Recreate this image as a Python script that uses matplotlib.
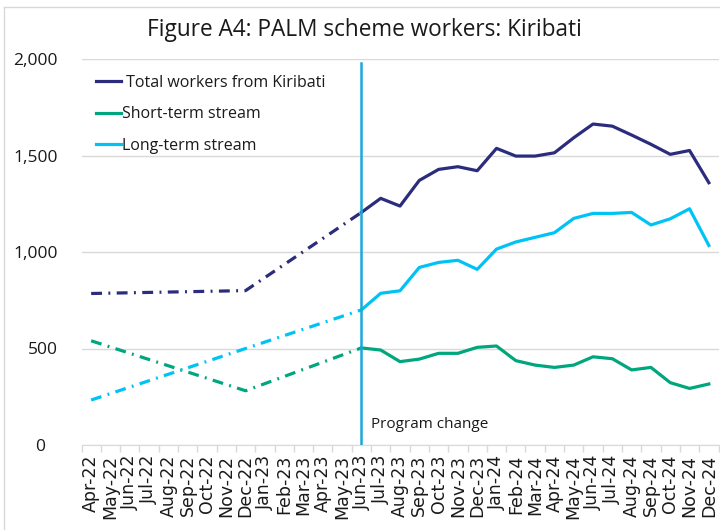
import numpy as np
import matplotlib
matplotlib.use("Agg")
import matplotlib.pyplot as plt
from matplotlib.lines import Line2D
from matplotlib.transforms import ScaledTranslation

nan = np.nan

months = ["Apr-22", "May-22", "Jun-22", "Jul-22", "Aug-22", "Sep-22", "Oct-22", "Nov-22",
          "Dec-22", "Jan-23", "Feb-23", "Mar-23", "Apr-23", "May-23", "Jun-23", "Jul-23",
          "Aug-23", "Sep-23", "Oct-23", "Nov-23", "Dec-23", "Jan-24", "Feb-24", "Mar-24",
          "Apr-24", "May-24", "Jun-24", "Jul-24", "Aug-24", "Sep-24", "Oct-24", "Nov-24",
          "Dec-24"]

total = [785, nan, nan, nan, nan, nan, nan, nan, 800, nan, nan, nan, nan, nan,
         1205, 1278, 1238, 1371, 1428, 1442, 1421, 1537, 1497, 1497, 1514, 1592,
         1663, 1652, 1606, 1558, 1506, 1526, 1359]
short_term = [540, nan, nan, nan, nan, nan, nan, nan, 281, nan, nan, nan, nan, nan,
              503, 492, 432, 445, 475, 475, 506, 513, 437, 414, 402, 414,
              457, 447, 389, 402, 323, 293, 316]
long_term = [233, nan, nan, nan, nan, nan, nan, nan, 500, nan, nan, nan, nan, nan,
             700, 786, 799, 920, 946, 957, 910, 1015, 1052, 1076, 1100, 1174,
             1200, 1200, 1205, 1140, 1172, 1224, 1034]

series_labels = [" Total workers from Kiribati", "Short-term stream", "Long-term stream"]
y_ticks = [0, 500, 1000, 1500, 2000]
change_month = "Jun-23"
title = "Figure A4: PALM scheme workers: Kiribati"
annotation = "Program change"

colors = ["#2B2C7C", "#00A67E", "#00C3F5"]
vline_color = "#1AA8DA"
grid_color = "#D9D9D9"
text_color = "#1A1A1A"
main_font = ["Open Sans", "DejaVu Sans"]

W, H = 720, 530
fig = plt.figure(figsize=(W / 100, H / 100), dpi=100)
ax = fig.add_axes([81.5 / W, 1 - 445 / H, (718.5 - 81.5) / W, (445 - 59) / H])

x = np.arange(len(months))
ci = months.index(change_month)

for vals, col in zip([total, short_term, long_term], colors):
    v = np.array(vals, dtype=float)
    pre = [i for i in range(0, ci + 1) if np.isfinite(v[i])]
    ax.plot(x[pre], v[pre], color=col, lw=2.3,
            linestyle=(0, (3.4, 2.0, 0.6, 2.0)), zorder=3)
    post = np.arange(ci, len(months))
    ax.plot(x[post], v[post], color=col, lw=2.3, solid_joinstyle="round", zorder=3)

ax.axvline(ci, ymin=0, ymax=0.99, color=vline_color, lw=1.8, zorder=4)
ax.text(ci + 0.5, 105, annotation, fontsize=11, color=text_color,
        family=main_font, va="center", ha="left")

ax.set_xlim(-0.5, len(months) - 0.5)
ax.set_ylim(0, 2000)
ax.set_yticks(y_ticks)
ax.set_yticklabels([f"{v:,}" for v in y_ticks], fontsize=12.5, family=main_font, color=text_color)
ax.tick_params(axis="y", length=0, pad=17)
ax.yaxis.grid(True, color=grid_color, lw=1)
ax.set_axisbelow(True)

ax.set_xticks(x)
ax.set_xticklabels(months, rotation=90, fontsize=12.5, family="DejaVu Sans", color=text_color)
ax.tick_params(axis="x", which="major", length=0, pad=7)
ax.set_xticks(np.arange(-0.5, len(months)), minor=True)
ax.tick_params(axis="x", which="minor", length=5, color=grid_color, width=1)

for s in ["top", "right", "left"]:
    ax.spines[s].set_visible(False)
ax.spines["bottom"].set_color(grid_color)

# shift the "0" label left
lab0 = ax.get_yticklabels()[0]
lab0.set_transform(lab0.get_transform() + ScaledTranslation(-13 / 100, 0, fig.dpi_scale_trans))

handles = [Line2D([0], [0], color=c, lw=2.3) for c in colors]
leg = ax.legend(handles, series_labels, loc="upper left", bbox_to_anchor=(0.0, 0.997),
                frameon=False, handlelength=1.55, handletextpad=0.1, labelspacing=0.98,
                prop={"family": main_font, "size": 11.5})
for t in leg.get_texts():
    t.set_color(text_color)

fig.text(364 / W, 1 - 30 / H, title, ha="center", va="center", fontsize=16.3,
         family=main_font, color=text_color)

# outer chart border (top and left visible)
fig.add_artist(Line2D([4 / W, 1], [1 - 7 / H, 1 - 7 / H], transform=fig.transFigure,
                      color=grid_color, lw=1))
fig.add_artist(Line2D([4 / W, 4 / W], [0, 1 - 7 / H], transform=fig.transFigure,
                      color=grid_color, lw=1))

fig.savefig("out.png", dpi=100)
